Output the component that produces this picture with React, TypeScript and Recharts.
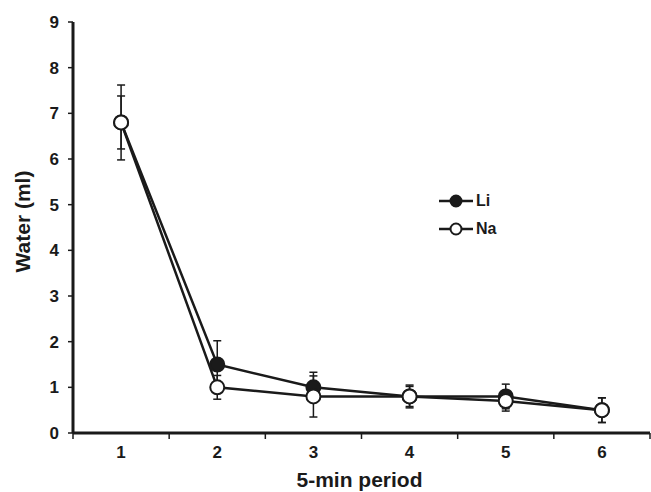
import { LineChart, Line, XAxis, YAxis, ErrorBar, Legend } from 'recharts';

const periods = [1, 2, 3, 4, 5, 6];
const liValues = [6.8, 1.5, 1.0, 0.8, 0.8, 0.5];
const liErrors = [0.82, 0.52, 0.33, 0.25, 0.27, 0.27];
const naValues = [6.8, 1.0, 0.8, 0.8, 0.7, 0.5];
const naErrors = [0.58, 0.26, 0.45, 0.22, 0.22, 0.27];
const yTicks = [0, 1, 2, 3, 4, 5, 6, 7, 8, 9];
// half-step ticks carry the tick marks, whole steps carry the labels
const xTicks = [0.5, 1, 1.5, 2, 2.5, 3, 3.5, 4, 4.5, 5, 5.5, 6, 6.5];

const data = periods.map((p, i) => ({
  period: p,
  li: liValues[i],
  liErr: liErrors[i],
  na: naValues[i],
  naErr: naErrors[i],
}));

const INK = '#1a1a1a';
const FONT = '"Liberation Sans", Arial, sans-serif';
const TICK_SIZE = 6;
const TICK_GAP = 4;

const XTick = ({ x, y, payload }: any) => {
  const v = payload.value;
  if (Number.isInteger(v)) {
    return (
      <text x={x} y={y + 15} textAnchor="middle" fill={INK} fontSize={17} fontWeight={700} fontFamily={FONT}>
        {v}
      </text>
    );
  }
  return <line x1={x} x2={x} y1={y - TICK_GAP - TICK_SIZE} y2={y - TICK_GAP} stroke={INK} strokeWidth={1.5} />;
};

const YTitle = ({ viewBox }: any) => {
  const cx = viewBox.x + 30;
  const cy = viewBox.y + viewBox.height / 2 - 6;
  return (
    <text x={cx} y={cy} transform={`rotate(-90, ${cx}, ${cy})`} textAnchor="middle" fill={INK}
      fontSize={21} fontWeight={700} fontFamily={FONT}>
      Water (ml)
    </text>
  );
};

const XTitle = ({ viewBox }: any) => (
  <text x={viewBox.x + viewBox.width / 2 - 2} y={viewBox.y + viewBox.height + 14} textAnchor="middle" fill={INK}
    fontSize={21} fontWeight={700} fontFamily={FONT}>
    5-min period
  </text>
);

const LegendBox = ({ payload }: any) => (
  <div>
    {(payload || []).map((entry: any) => (
      <div key={entry.value} style={{ display: 'flex', alignItems: 'center', height: 28 }}>
        <svg width={36} height={16}>
          <line x1={1} x2={35} y1={8} y2={8} stroke={INK} strokeWidth={2.5} />
          <circle cx={18} cy={8} r={5.5} fill={entry.dataKey === 'li' ? INK : '#fff'} stroke={INK} strokeWidth={2} />
        </svg>
        <span style={{ marginLeft: 2, fontFamily: FONT, fontWeight: 700, fontSize: 16, color: INK }}>
          {entry.value}
        </span>
      </div>
    ))}
  </div>
);

export default function App() {
  return (
    <div style={{ position: 'absolute', left: 0, top: 0, background: '#fff' }}>
      <LineChart width={651} height={492} data={data} margin={{ top: 22, right: 1, bottom: 19, left: 0 }}>
        <XAxis
          dataKey="period"
          type="number"
          domain={[0.5, 6.5]}
          ticks={xTicks}
          interval={0}
          height={40}
          tick={<XTick />}
          tickLine={false}
          tickSize={TICK_SIZE}
          tickMargin={TICK_GAP}
          axisLine={{ stroke: INK, strokeWidth: 3 }}
          label={<XTitle />}
        />
        <YAxis
          domain={[0, 9]}
          ticks={yTicks}
          interval={0}
          width={73}
          tickSize={5}
          tickMargin={9}
          tickLine={{ stroke: INK, strokeWidth: 1.5 }}
          axisLine={{ stroke: INK, strokeWidth: 3 }}
          tick={{ fill: INK, fontSize: 17, fontWeight: 700, fontFamily: FONT }}
          label={<YTitle />}
        />
        <Legend
          layout="horizontal"
          verticalAlign="middle"
          align="center"
          content={<LegendBox />}
          wrapperStyle={{ position: 'absolute', left: 438, top: 187, width: 80 }}
        />
        <Line
          name="Li"
          dataKey="li"
          stroke={INK}
          strokeWidth={2.5}
          dot={{ r: 7, fill: INK, stroke: INK, strokeWidth: 2 }}
          isAnimationActive={false}
        >
          <ErrorBar dataKey="liErr" width={4} stroke={INK} strokeWidth={1.5} direction="y" />
        </Line>
        <Line
          name="Na"
          dataKey="na"
          stroke={INK}
          strokeWidth={2.5}
          dot={{ r: 7, fill: '#fff', stroke: INK, strokeWidth: 2 }}
          isAnimationActive={false}
        >
          <ErrorBar dataKey="naErr" width={4} stroke={INK} strokeWidth={1.5} direction="y" />
        </Line>
      </LineChart>
    </div>
  );
}
